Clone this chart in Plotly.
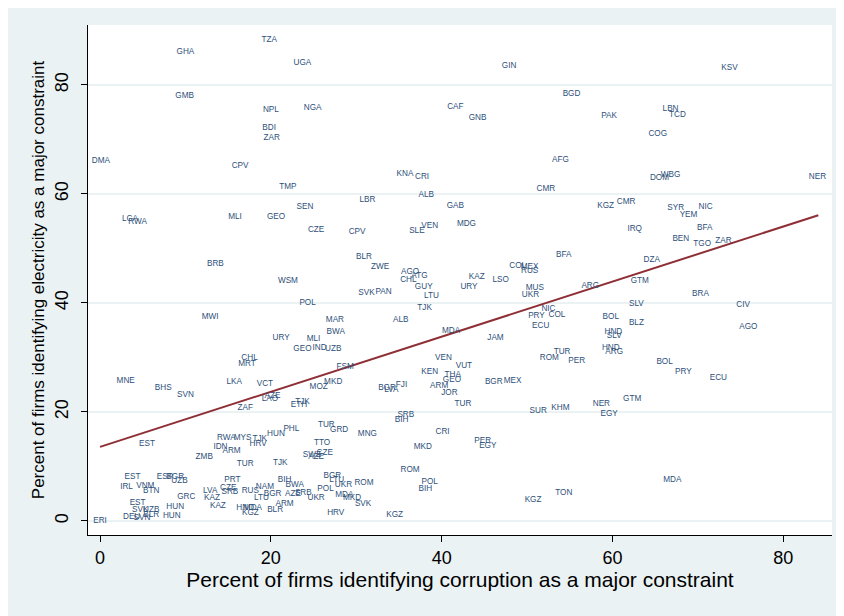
import plotly.graph_objects as go

codes = [
"TZA","GHA","UGA","GIN","KSV","GMB","BGD","CAF","NGA","NPL","LBN","TCD","PAK","GNB","BDI","COG","ZAR","DMA","AFG","CPV",
"KNA","CRI","DOM","WBG","NER","TMP","CMR","ALB","LBR","SEN","GAB","KGZ","CMR","SYR","NIC","YEM","LCA","RWA","MLI","GEO",
"CZE","CPV","SLE","VEN","MDG","IRQ","BFA","BEN","TGO","ZAR","BFA","BLR","DZA","BRB","ZWE","COL","MEX","RUS","AGO","ATG",
"KAZ","CHL","LSO","WSM","GTM","GUY","URY","MUS","ARG","SVK","PAN","BRA","UKR","LTU","POL","SLV","CIV","TJK","NIC","PRY",
"COL","BOL","MWI","MAR","ALB","BLZ","ECU","AGO","BWA","MDA","HND","SLV","URY","JAM","MLI","GEO","IND","UZB","HND","ARG",
"TUR","CHL","VEN","ROM","PER","BOL","MRT","VUT","FSM","KEN","PRY","THA","ECU","GEO","MNE","LKA","MKD","BGR","MEX","VCT",
"FJI","ARM","MOZ","BHS","BGR","LVA","JOR","SVN","AZE","LAO","GTM","TJK","TUR","NER","ETH","ZAF","KHM","SUR","EGY","SRB",
"BIH","TUR","PHL","GRD","CRI","HUN","MNG","RWA","MYS","TJK","PER","TTO","EST","HRV","EGY","IDN","MKD","ARM","CZE","SWZ",
"ZMB","AZE","TJK","TUR","ROM","BGR","EST","ESP","BGR","LTU","MDA","PRT","BIH","POL","ROM","UKR","BWA","VNM","IRL","NAM",
"CZE","POL","BIH","RUS","BTN","LVA","SRB","TON","SRB","AZE","BGR","MDA","GRC","KAZ","LTU","UKR","MKD","KGZ","EST","SVK",
"ARM","KAZ","HUN","SVK","UZB","BLR","HRV","KGZ","BLR","KGZ","HUN","DEU","SVN","ERI","MDA","HND","UZB",
]
corruption = [
19.8,10.0,23.7,47.9,73.7,9.9,55.2,41.6,24.9,20.0,66.8,67.6,59.6,44.2,19.8,65.3,20.1,0.1,53.9,16.4,
35.7,37.7,65.5,66.8,84.0,22.0,52.2,38.2,31.3,24.0,41.6,59.2,61.6,67.4,70.9,68.9,3.5,4.4,15.8,20.6,
25.3,30.1,37.1,38.6,42.9,62.6,70.8,68.0,70.5,73.0,54.3,30.9,64.6,13.5,32.8,48.9,50.3,50.3,36.3,37.4,
44.1,36.1,46.9,22.0,63.2,37.9,43.2,50.9,57.4,31.2,33.2,70.3,50.4,38.8,24.3,62.8,75.3,38.0,52.5,51.1,
53.5,59.8,12.9,27.5,35.2,62.8,51.6,75.9,27.6,41.1,60.1,60.2,21.2,46.3,25.0,23.7,25.7,27.3,59.8,60.2,
54.1,17.5,40.2,52.6,55.8,66.1,17.2,42.6,28.7,38.6,68.3,41.3,72.4,41.2,3.0,15.7,27.3,46.1,48.3,19.3,
35.3,39.7,25.6,7.4,33.6,34.1,40.9,10.0,20.2,19.9,62.3,23.7,42.5,58.7,23.3,17.0,53.9,51.3,59.6,35.8,
35.3,26.5,22.4,28.0,40.1,20.6,31.3,14.8,16.7,18.7,44.8,26.0,5.5,18.5,45.4,14.1,37.8,15.4,26.3,24.8,
12.2,25.3,21.1,17.0,36.3,27.2,3.8,7.6,8.8,27.7,67.0,15.5,21.6,38.6,30.9,28.5,22.8,5.3,3.1,19.3,
15.0,26.4,38.1,17.6,6.0,12.9,15.2,54.3,23.8,22.6,20.2,28.6,10.1,13.1,18.9,25.3,29.5,50.7,4.4,30.8,
21.6,13.8,8.8,4.7,6.0,20.5,27.6,17.6,6.0,34.5,8.4,3.7,4.9,0.0,17.9,17.0,9.3,
]
electricity = [
88.3,86.0,84.1,83.5,83.2,78.0,78.3,76.0,75.8,75.5,75.6,74.5,74.3,73.9,72.2,71.0,70.3,66.1,66.2,65.1,
63.7,63.2,63.0,63.5,63.2,61.3,61.0,59.9,58.9,57.6,57.8,57.8,58.6,57.4,57.6,56.1,55.5,54.9,55.7,55.8,
53.4,53.1,53.2,54.1,54.5,53.5,53.8,51.7,50.9,51.4,48.8,48.4,47.9,47.2,46.6,46.8,46.7,45.9,45.6,45.0,
44.8,44.2,44.2,44.0,44.0,42.9,42.9,42.8,43.2,41.8,42.0,41.7,41.5,41.3,40.0,39.9,39.6,39.0,38.9,37.7,
37.8,37.4,37.4,36.9,36.9,36.4,35.8,35.6,34.7,34.9,34.6,34.0,33.6,33.6,33.4,31.6,31.7,31.6,31.8,31.1,
31.1,30.0,29.9,29.9,29.4,29.2,28.8,28.4,28.3,27.4,27.3,26.8,26.3,25.9,25.7,25.6,25.6,25.6,25.7,25.1,
25.0,24.8,24.6,24.5,24.5,24.1,23.5,23.1,23.0,22.3,22.3,21.9,21.5,21.5,21.3,20.7,20.7,20.2,19.6,19.4,
18.6,17.6,16.8,16.7,16.3,16.0,16.0,15.3,15.3,15.0,14.7,14.4,14.1,14.1,13.8,13.6,13.6,12.8,12.5,12.1,
11.8,11.8,10.6,10.5,9.4,8.2,8.1,8.1,8.1,7.5,7.5,7.5,7.5,7.2,7.0,6.6,6.6,6.5,6.3,6.2,
6.0,5.9,5.9,5.6,5.5,5.5,5.3,5.2,5.1,5.0,4.9,4.8,4.4,4.3,4.3,4.3,4.3,3.9,3.4,3.2,
3.1,2.8,2.6,2.0,2.0,2.0,1.5,1.5,1.1,1.1,0.9,0.8,0.5,0.0,2.4,2.4,7.3,
]

fit_x = [0.0, 84.1]
fit_y = [13.6, 56.1]

x_ticks = [0, 20, 40, 60, 80]
y_ticks = [0, 20, 40, 60, 80]

label_color = "#2E5079"
bg = "#EAF2F3"
font = "Liberation Sans, Arial, sans-serif"

fig = go.Figure()
fig.add_trace(go.Scatter(
    x=fit_x, y=fit_y, mode="lines",
    line=dict(color="#8E2F36", width=2), hoverinfo="skip", showlegend=False,
))
fig.add_trace(go.Scatter(
    x=corruption, y=electricity, mode="text", text=codes,
    textposition="middle center",
    textfont=dict(family=font, size=8.2, color=label_color),
    showlegend=False,
))

fig.update_layout(
    width=844, height=616,
    paper_bgcolor=bg, plot_bgcolor="white",
    margin=dict(l=80, r=20, t=17, b=89),
    font=dict(family=font, color="black"),
    showlegend=False,
)
fig.update_xaxes(
    range=[-1.41, 85.7], tickvals=x_ticks, ticktext=[str(v) for v in x_ticks],
    showgrid=False, zeroline=False, showline=True, linecolor="black", linewidth=1,
    ticks="outside", ticklen=6, tickcolor="black", tickfont=dict(size=18),
    title=dict(text="Percent of firms identifying corruption as a major constraint",
               font=dict(size=21), standoff=2),
)
fig.update_yaxes(
    range=[-2.57, 91.0], tickvals=y_ticks, ticktext=[str(v) for v in y_ticks],
    showgrid=True, gridcolor=bg, gridwidth=1.5, zeroline=False,
    showline=True, linecolor="black", linewidth=1,
    ticks="outside", ticklen=6, tickcolor="black", tickfont=dict(size=18), tickangle=-90,
    ticklabelstandoff=6,
    title=dict(text="Percent of firms identifying electricity as a major constraint",
               font=dict(size=17), standoff=2),
)

fig.write_html("out.html")
